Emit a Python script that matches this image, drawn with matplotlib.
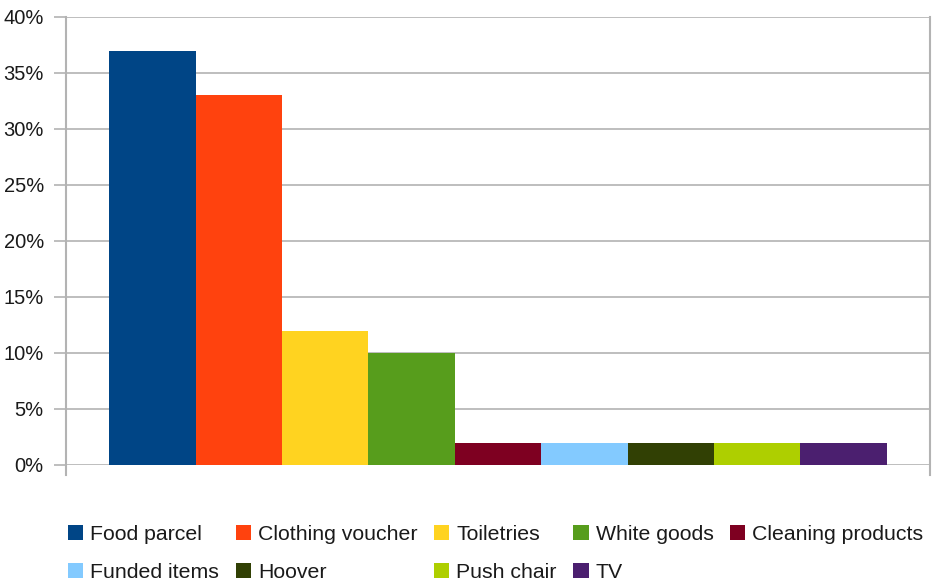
import matplotlib.pyplot as plt
from matplotlib.patches import Patch
from matplotlib.ticker import FuncFormatter

# share of requests by support type (%)
categories = ['Food parcel', 'Clothing voucher', 'Toiletries', 'White goods',
              'Cleaning products', 'Funded items', 'Hoover', 'Push chair', 'TV']
shares = [37, 33, 12, 10, 2, 2, 2, 2, 2]
colours = ['#004586', '#ff420e', '#ffd320', '#579d1c', '#7e0021',
           '#83caff', '#314004', '#aecf00', '#4b1f6f']
y_ticks = [0, 5, 10, 15, 20, 25, 30, 35, 40]

plt.rcParams['font.family'] = ['Liberation Sans', 'DejaVu Sans']
grid_col = '#b3b3b3'

fig = plt.figure(figsize=(9.34, 5.82), dpi=100)
ax = fig.add_axes([66 / 934, (582 - 465) / 582, (930 - 66) / 934, 448 / 582])

x = list(range(len(categories)))
ax.bar(x, shares, width=1.0, color=colours, zorder=3)

ax.set_xlim(-1, len(categories))
ax.set_ylim(0, 40)
ax.set_yticks(y_ticks)
ax.yaxis.set_major_formatter(FuncFormatter(lambda v, _: f'{v:.0f}%'))
ax.set_xticks([])
ax.grid(axis='y', color=grid_col, linewidth=1.2, zorder=0)
ax.tick_params(axis='y', length=9, width=1.2, color=grid_col,
               labelsize=14.5, pad=7, labelcolor='#1a1a1a')
for side in ['top', 'bottom', 'left', 'right']:
    ax.spines[side].set_visible(False)

# vertical frame lines, running a little below zero
ext = -10 / 448
for xa in [0, 1]:
    ax.plot([xa, xa], [ext, 1], color=grid_col, linewidth=1.5,
            transform=ax.transAxes, clip_on=False, zorder=4)

# legend fills row by row: five entries on top, four below
ncol = 5
order = [0, 5, 1, 6, 2, 7, 3, 8, 4]
handles = [Patch(facecolor=colours[i], edgecolor='none') for i in order]
labels = [categories[i] for i in order]
fig.legend(handles, labels, ncol=ncol, loc='upper left',
           bbox_to_anchor=(68 / 934, 1 - 525 / 582), frameon=False,
           fontsize=15.3, handlelength=0.72, handleheight=0.72,
           handletextpad=0.33, columnspacing=0.78, labelspacing=0.9,
           borderaxespad=0, borderpad=0, labelcolor='#1a1a1a')

fig.savefig('out.png', dpi=100)
